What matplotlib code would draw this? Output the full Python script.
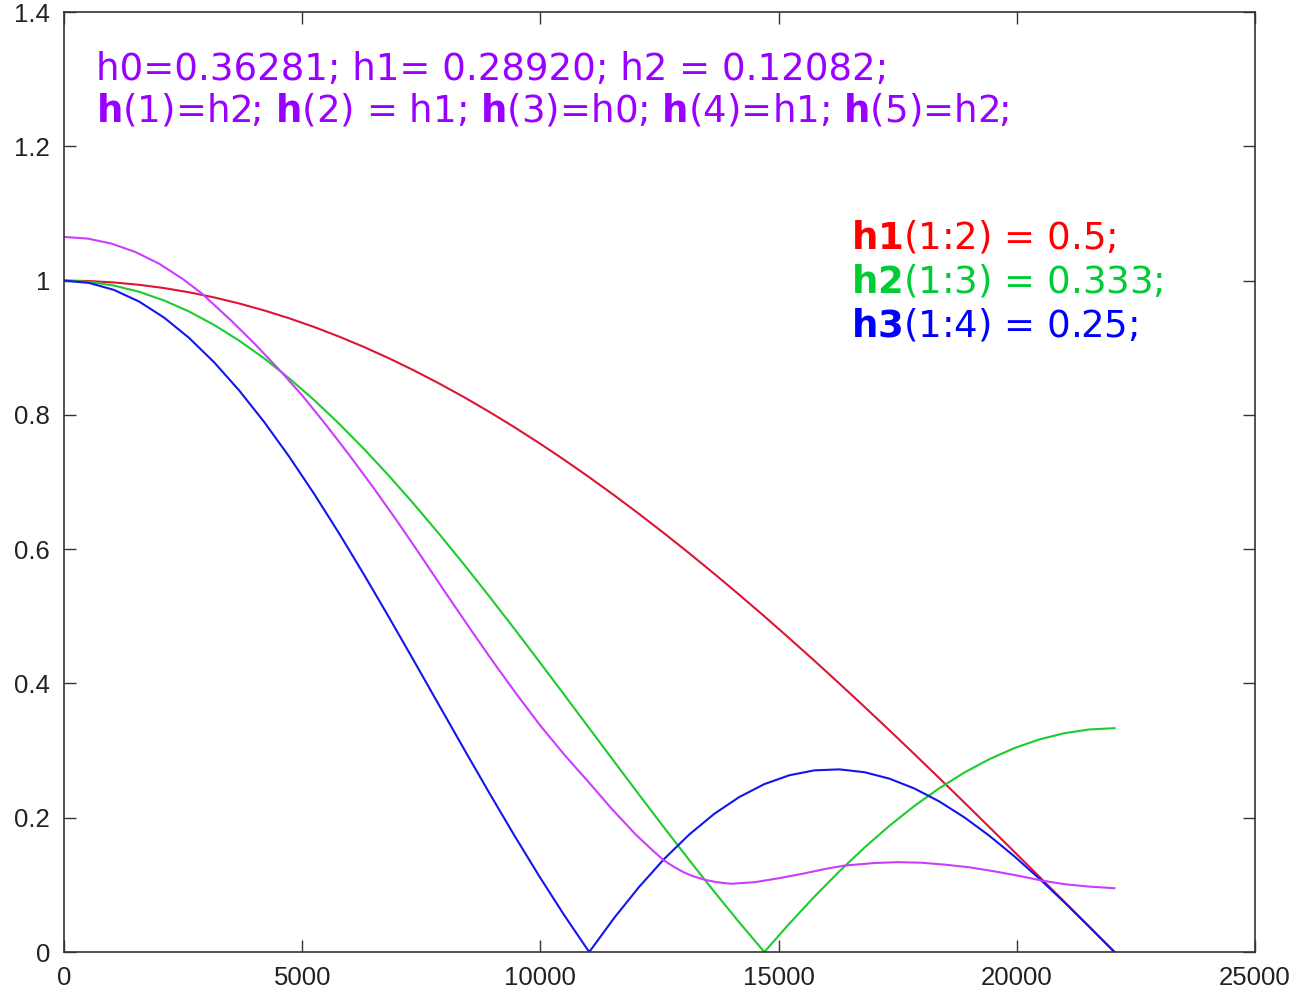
import matplotlib
matplotlib.use("Agg")
import matplotlib.pyplot as plt

# ---- data ----
freq = [0, 525, 1050, 1575, 2100, 2625, 3150, 3675, 4200, 4725, 5250, 5775, 6300,
        6825, 7350, 7875, 8400, 8925, 9450, 9975, 10500, 11025, 11550, 12075, 12600,
        13125, 13650, 14175, 14700, 15225, 15750, 16275, 16800, 17325, 17850, 18375,
        18900, 19425, 19950, 20475, 21000, 21525, 22050]

red_h1 = [1.0, 0.99930, 0.99720, 0.99371, 0.98883, 0.98256, 0.97493, 0.96593, 0.95557,
          0.94388, 0.93087, 0.91656, 0.90097, 0.88413, 0.86603, 0.84672, 0.82624,
          0.80460, 0.78183, 0.75797, 0.73305, 0.70711, 0.68017, 0.65228, 0.62349,
          0.59382, 0.56332, 0.53203, 0.5, 0.46726, 0.43388, 0.39989, 0.36534, 0.33028,
          0.29476, 0.25882, 0.22252, 0.18591, 0.14904, 0.11196, 0.07473, 0.03739, 0.0]

green_h2 = [1.0, 0.99813, 0.99255, 0.98329, 0.97038, 0.95391, 0.93398, 0.91069, 0.88416,
            0.85455, 0.82203, 0.78678, 0.74899, 0.70888, 0.66667, 0.62259, 0.57689,
            0.52984, 0.48168, 0.43269, 0.38315, 0.33333, 0.28351, 0.23397, 0.18499,
            0.13683, 0.08977, 0.04408, 0.0, 0.04221, 0.08233, 0.12011, 0.15537, 0.18789,
            0.21749, 0.24402, 0.26731, 0.28725, 0.30371, 0.31662, 0.32589, 0.33147, 0.33333]

blue_h3 = [1.0, 0.99650, 0.98606, 0.96880, 0.94490, 0.91464, 0.87838, 0.83652, 0.78953,
           0.73795, 0.68237, 0.62342, 0.56175, 0.49805, 0.43301, 0.36737, 0.30186,
           0.23716, 0.17397, 0.11297, 0.05478, 0.0, 0.05083, 0.09722, 0.13874, 0.17503,
           0.20580, 0.23084, 0.25, 0.26322, 0.27052, 0.27199, 0.26781, 0.25822, 0.24354,
           0.22415, 0.20048, 0.17306, 0.14242, 0.10915, 0.07390, 0.03729, 0.0]

freq_h = [0, 500, 1000, 1500, 2000, 2500, 2890, 3500, 4000, 4534, 5000, 5500, 6000,
          6500, 7000, 7500, 8000, 8500, 9000, 9500, 10000, 10500, 11000, 11500, 12000,
          12300, 12580, 12800, 13000, 13200, 13455, 13700, 14000, 14500, 15000, 15500,
          16000, 16394, 16800, 17000, 17500, 18000, 18500, 19000, 19500, 20000, 20557,
          21000, 21500, 22050]
purple_h = [1.065, 1.0625, 1.055, 1.0425, 1.025, 1.002, 0.981, 0.941, 0.906, 0.866,
            0.829, 0.785, 0.739, 0.691, 0.641, 0.589, 0.536, 0.484, 0.433, 0.384,
            0.337, 0.294, 0.254, 0.213, 0.175, 0.155, 0.137, 0.127, 0.119, 0.113,
            0.1075, 0.104, 0.1016, 0.1040, 0.1098, 0.1165, 0.124, 0.1288, 0.1312,
            0.1325, 0.1338, 0.1330, 0.1300, 0.1262, 0.1205, 0.114, 0.106, 0.1010,
            0.0975, 0.095]

xticks = [0, 5000, 10000, 15000, 20000, 25000]
xticklabels = ["0", "5000", "10000", "15000", "20000", "25000"]
yticks = [0, 0.2, 0.4, 0.6, 0.8, 1.0, 1.2, 1.4]
yticklabels = ["0", "0.2", "0.4", "0.6", "0.8", "1", "1.2", "1.4"]

# ---- figure ----
fig = plt.figure(figsize=(12.97, 9.97), dpi=100)
ax = fig.add_axes([64 / 1297, 45 / 997, (1255 - 64) / 1297, (952 - 12) / 997])

lw = 1.5
ax.plot(freq, red_h1, color="#dd1535", lw=lw, solid_joinstyle="round")
ax.plot(freq, green_h2, color="#1ccc2c", lw=lw, solid_joinstyle="round")
ax.plot(freq, blue_h3, color="#1414f0", lw=lw, solid_joinstyle="round")
ax.plot(freq_h, purple_h, color="#cc3cff", lw=lw, solid_joinstyle="round")

ax.set_xlim(0, 25000)
ax.set_ylim(0, 1.4)
ax.set_xticks(xticks)
ax.set_xticklabels(xticklabels)
ax.set_yticks(yticks)
ax.set_yticklabels(yticklabels)
ax.tick_params(direction="in", length=8.5, width=1.0, color="#333333",
               top=True, right=True, labelsize=18.5, labelcolor="#222222")
ax.tick_params(axis="x", pad=10)
ax.tick_params(axis="y", pad=10)
for lab in ax.get_xticklabels() + ax.get_yticklabels():
    lab.set_fontfamily("Liberation Sans")
for s in ax.spines.values():
    s.set_color("#333333")
    s.set_linewidth(1.2)

plt.rcParams["mathtext.fontset"] = "dejavusans"
fs = 26.7
tc = "#9900ff"
ax.text(0.0269, 0.9277, "h0=0.36281; h1= 0.28920; h2 = 0.12082;", transform=ax.transAxes,
        fontsize=fs, color=tc, va="baseline", ha="left", family="DejaVu Sans")
ax.text(0.0269, 0.8833,
        r"$\mathbf{h}$(1)=h2; $\mathbf{h}$(2) = h1; $\mathbf{h}$(3)=h0; $\mathbf{h}$(4)=h1; $\mathbf{h}$(5)=h2;",
        transform=ax.transAxes, fontsize=fs, color=tc, va="baseline", ha="left",
        family="DejaVu Sans")

ax.text(0.6608, 0.7479, r"$\mathbf{h1}$(1:2) = 0.5;", transform=ax.transAxes,
        fontsize=fs, color="#ff0000", va="baseline", ha="left", family="DejaVu Sans")
ax.text(0.6608, 0.7014, r"$\mathbf{h2}$(1:3) = 0.333;", transform=ax.transAxes,
        fontsize=fs, color="#00cc33", va="baseline", ha="left", family="DejaVu Sans")
ax.text(0.6608, 0.6553, r"$\mathbf{h3}$(1:4) = 0.25;", transform=ax.transAxes,
        fontsize=fs, color="#0000ff", va="baseline", ha="left", family="DejaVu Sans")

fig.savefig("out.png", dpi=100)
